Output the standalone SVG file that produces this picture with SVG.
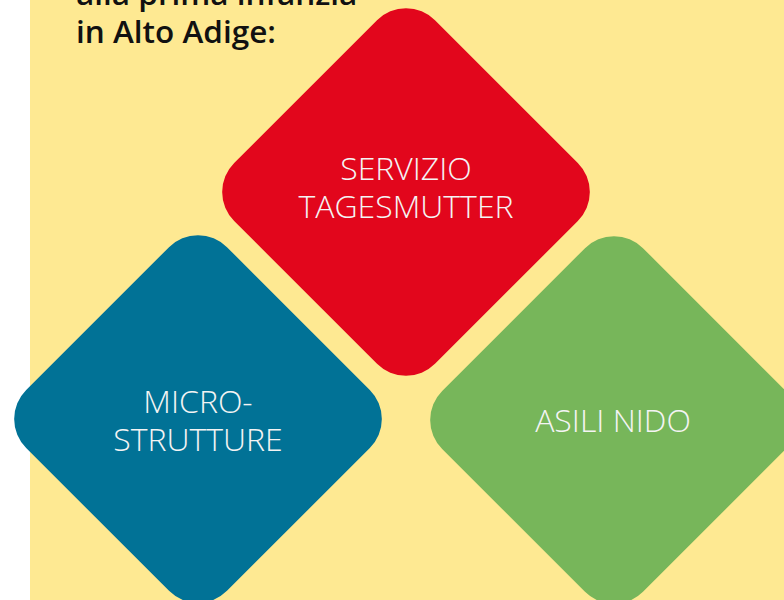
<svg xmlns="http://www.w3.org/2000/svg" width="784" height="600" viewBox="0 0 784 600">
<style>
.lbl{font-family:"Open Sans","Liberation Sans",sans-serif;font-weight:300;font-size:32px;fill:#f4f4f4;text-anchor:middle}
.ttl{font-family:"Open Sans","Liberation Sans",sans-serif;font-weight:600;font-size:31.5px;fill:#111}
</style>
<defs>
<rect id="dia" x="-142" y="-142" width="284" height="284" rx="41" ry="41"/>
</defs>
<rect x="0" y="0" width="784" height="600" fill="#ffffff"/>
<rect x="30" y="0" width="754" height="600" fill="#fee992"/>
<g id="title">
<text class="ttl" x="76" y="5">alla prima infanzia</text>
<text class="ttl" x="76" y="43">in Alto Adige:</text>
</g>
<g id="connectors"></g>
<g id="tagesmutter">
<use href="#dia" transform="translate(406,192) rotate(45)" fill="#e2061c"/>
<text class="lbl" x="406" y="180">SERVIZIO</text>
<text class="lbl" x="406" y="218">TAGESMUTTER</text>
</g>
<g id="microstrutture">
<use href="#dia" transform="translate(198,419) rotate(45)" fill="#017296"/>
<text class="lbl" x="198" y="413">MICRO-</text>
<text class="lbl" x="198" y="451">STRUTTURE</text>
</g>
<g id="asilinido">
<use href="#dia" transform="translate(614,420) rotate(45)" fill="#77b65a"/>
<text class="lbl" x="613" y="432">ASILI NIDO</text>
</g>
</svg>
